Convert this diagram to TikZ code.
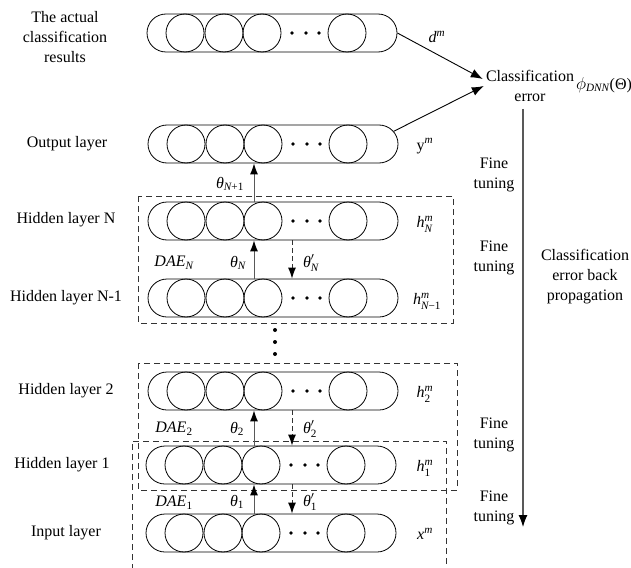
\documentclass[tikz,border=0pt]{standalone}
\usepackage{amsmath}
\usepackage{fontspec}
\setmainfont{Liberation Serif}
\usetikzlibrary{shapes.misc,arrows.meta,calc}
\newcommand\mklayer[3]{%
  \node[rowbox] (#1) at (#2,#3) {};
  \node[neuron] (#1c1) at (#2-87,#3) {};
  \node[neuron] (#1c2) at (#2-48,#3) {};
  \node[neuron] (#1c3) at (#2-10,#3) {};
  \node[neuron] (#1c4) at (#2+75,#3) {};
  \node[ndot] (#1d1) at (#2+20,#3) {};
  \node[ndot] (#1d2) at (#2+34,#3) {};
  \node[ndot] (#1d3) at (#2+47,#3) {};
}
\begin{document}
\begin{tikzpicture}[x=1pt,y=-1pt,
  font=\fontsize{16}{20}\selectfont,
  rowbox/.style={draw, rounded rectangle, minimum width=250pt, minimum height=38pt, inner sep=0pt, line width=0.8pt},
  neuron/.style={draw, circle, minimum size=38pt, inner sep=0pt, line width=0.8pt},
  ndot/.style={fill, circle, inner sep=0pt, minimum size=3.6pt},
  lbl/.style={align=center, inner sep=1pt},
  uparr/.style={draw=black!65, line width=1pt, -{Latex[length=11pt,width=8pt,fill=black,color=black]}},
  dnarr/.style={draw=black!80, line width=1pt, dash pattern=on 5pt off 3pt, -{Latex[length=11pt,width=8pt,fill=black,color=black]}},
  carr/.style={draw=black, line width=0.9pt, -{Latex[length=12pt,width=9pt]}},
  varr/.style={draw=black!65, line width=1.1pt, -{Latex[length=12pt,width=9pt,fill=black,color=black]}},
  dbox/.style={draw=black!80, line width=0.9pt, dash pattern=on 6pt off 4pt}
]
\useasboundingbox (0,0) rectangle (631,567);

% layers
\mklayer{act}{272}{33}
\mklayer{out}{273}{144}
\mklayer{hN}{273}{221}
\mklayer{hNm}{273}{298}
\mklayer{htwo}{273}{391}
\mklayer{hone}{271}{465}
\mklayer{inp}{271}{533}

% dashed boxes
\draw[dbox] (138,196) rectangle (453,323);
\draw[dbox] (138,363) rectangle (457,490);
\draw[dbox] (132,580) -- (132,441) -- (446,441) -- (446,580);

% vertical dots
\node[ndot, minimum size=4pt] (vd1) at (275,330) {};
\node[ndot, minimum size=4pt] (vd2) at (275,342) {};
\node[ndot, minimum size=4pt] (vd3) at (275,354) {};

% left labels
\node[lbl] (tact) at (65,37) {The actual\\classification\\results};
\node[lbl] (tout) at (67,144) {Output layer};
\node[lbl] (thN) at (66,220) {Hidden layer N};
\node[lbl] (thNm) at (66,298) {Hidden layer N-1};
\node[lbl] (thtwo) at (66,391) {Hidden layer 2};
\node[lbl] (thone) at (62,465) {Hidden layer 1};
\node[lbl] (tinp) at (66,533) {Input layer};

% right labels
\node[lbl] (ld) at (437,37) {$\textit{d}^{\textit{m}}$};
\node[lbl] (ly) at (425,146) {$\text{y}^{\textit{m}}$};
\node[lbl] (lhN) at (425,224) {$\textit{h}^{\textit{m}}_{\textit{N}}$};
\node[lbl] (lhNm) at (427,301) {$\textit{h}^{\textit{m}}_{\textit{N}\text{−1}}$};
\node[lbl] (lhtwo) at (425,394) {$\textit{h}^{\textit{m}}_{\text{2}}$};
\node[lbl] (lhone) at (425,468) {$\textit{h}^{\textit{m}}_{\text{1}}$};
\node[lbl] (lx) at (425,534) {$\textit{x}^{\textit{m}}$};

% inter-layer arrows
\coordinate (ux) at (254,0);
\coordinate (dx) at (292,0);
\draw[uparr] (ux |- hN.north) -- (ux |- out.south);
\draw[uparr] (ux |- hNm.north) -- (ux |- hN.south);
\draw[dnarr] (dx |- hN.south) -- (dx |- hNm.north);
\draw[uparr] (ux |- hone.north) -- (ux |- htwo.south);
\draw[dnarr] (dx |- htwo.south) -- (dx |- hone.north);
\draw[uparr] (ux |- inp.north) -- (ux |- hone.south);
\draw[dnarr] (dx |- hone.south) -- (dx |- inp.north);

% arrow labels
\node[lbl] (tNp) at (230,184) {$\textit{θ}_{\textit{N}\text{+1}}$};
\node[lbl] (dN) at (174,263) {$\textit{DAE}_{\textit{N}}$};
\node[lbl] (tN) at (238,263) {$\textit{θ}_{\textit{N}}$};
\node[lbl] (tpN) at (311,263) {$\textit{θ}'_{\textit{N}}$};
\node[lbl] (dtwo) at (174,429) {$\textit{DAE}_{\text{2}}$};
\node[lbl] (ttwo) at (237,429) {$\textit{θ}_{\text{2}}$};
\node[lbl] (tptwo) at (310,429) {$\textit{θ}'_{\text{2}}$};
\node[lbl] (done) at (174,503) {$\textit{DAE}_{\text{1}}$};
\node[lbl] (tone) at (237,502) {$\textit{θ}_{\text{1}}$};
\node[lbl] (tpone) at (310,502) {$\textit{θ}'_{\text{1}}$};

% classification error
\node[lbl] (ce) at (530,86) {Classification\\error};
\node[lbl] (phi) at (604,85) {$\phi_{\textit{DNN}}\text{(Θ)}$};
\draw[carr] (act.east) -- ($(ce.west)+(-2,-7)$);
\draw[carr] (out.6) -- ($(ce.west)+(-1,0)$);

\coordinate (vx) at (523,0);
\coordinate (vend) at (523,527);
\draw[varr] ($(vx |- ce.south)+(0,6)$) -- (vend);

% right side labels
\node[lbl] (ft1) at (494,175) {Fine\\tuning};
\node[lbl] (ft2) at (494,258) {Fine\\tuning};
\node[lbl] (ft3) at (494,435) {Fine\\tuning};
\node[lbl] (ft4) at (494,508) {Fine\\tuning};
\node[lbl] (cebp) at (585,277) {Classification\\error back\\propagation};
\end{tikzpicture}
\end{document}
